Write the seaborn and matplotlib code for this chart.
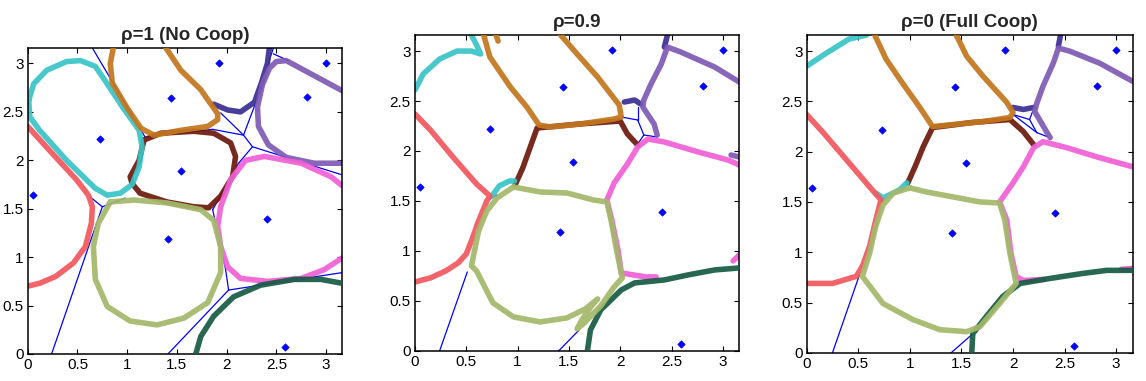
import numpy as np
import pandas as pd
import matplotlib
matplotlib.use('Agg')
import matplotlib.pyplot as plt
import seaborn as sns

# Seed points (same in every panel)
SEED_X = [0.05, 0.73, 1.44, 1.92, 3.00, 2.81, 1.54, 1.41, 2.41, 2.59]
SEED_Y = [1.64, 2.22, 2.64, 3.01, 3.01, 2.65, 1.89, 1.19, 1.39, 0.07]

TICKS = [0, 0.5, 1, 1.5, 2, 2.5, 3]
TICK_LABELS = ['0', '0.5', '1', '1.5', '2', '2.5', '3']
TITLES = ['\u03c1=1 (No Coop)', '\u03c1=0.9', '\u03c1=0 (Full Coop)']

COLORS = {
    'navy': '#3c2f94', 'brown': '#6e1a0e', 'cyan': '#3bc4c8', 'red': '#f2575f',
    'purple': '#7f5bb5', 'magenta': '#f060d6', 'orange': '#c3771e',
    'green': '#175b45', 'olive': '#a4b86a',
}
DRAW_ORDER = ['navy', 'brown', 'cyan', 'red', 'purple', 'magenta', 'orange', 'green', 'olive']

# ---- panel 1: rho = 1 ----
P1_CYAN = [(0.01, 2.62), (0.06, 2.79), (0.19, 2.93), (0.39, 3.02), (0.53, 3.03), (0.68, 2.97),
           (0.78, 2.82), (0.96, 2.54), (1.12, 2.31), (1.15, 2.14), (1.12, 1.93), (1.05, 1.75),
           (0.93, 1.66), (0.80, 1.64), (0.68, 1.71), (0.39, 2.00), (0.12, 2.31), (0.02, 2.45),
           (0.01, 2.62)]
P1_RED = [(0.0, 2.35), (0.23, 2.09), (0.49, 1.80), (0.61, 1.64), (0.65, 1.52), (0.64, 1.35),
          (0.58, 1.11), (0.46, 0.94), (0.28, 0.80), (0.12, 0.73), (0.0, 0.70)]
P1_ORANGE = [(0.86, 3.16), (0.83, 3.00), (0.85, 2.80), (1.00, 2.54), (1.14, 2.33), (1.27, 2.26),
             (1.54, 2.31), (1.81, 2.35), (1.91, 2.42), (1.91, 2.48), (1.74, 2.73), (1.54, 2.93),
             (1.39, 3.16)]
P1_BROWN = [(1.17, 2.21), (1.34, 2.28), (1.67, 2.30), (1.87, 2.28), (2.04, 2.18), (2.09, 2.04),
            (2.06, 1.83), (1.94, 1.63), (1.82, 1.51), (1.67, 1.52), (1.40, 1.57), (1.13, 1.66),
            (1.05, 1.76), (1.03, 1.83), (1.12, 2.00), (1.17, 2.21)]
P1_NAVY = [(2.43, 3.16), (2.41, 3.00), (2.35, 2.80), (2.28, 2.60), (2.14, 2.50), (2.01, 2.52),
           (1.87, 2.58)]
P1_PURPLE = [(3.16, 2.72), (2.60, 3.03), (2.50, 3.02), (2.43, 2.95), (2.36, 2.78), (2.31, 2.55),
             (2.32, 2.35), (2.42, 2.16), (2.60, 2.03), (2.88, 1.97), (3.16, 1.97)]
P1_MAGENTA = [(3.16, 1.74), (3.05, 1.83), (2.75, 1.97), (2.38, 2.04), (2.19, 2.00), (2.04, 1.80),
              (1.94, 1.52), (1.91, 1.32), (1.94, 1.11), (2.01, 0.90), (2.14, 0.78), (2.41, 0.75),
              (2.75, 0.78), (2.98, 0.87), (3.16, 0.99)]
P1_OLIVE = [(0.83, 1.57), (1.07, 1.59), (1.40, 1.56), (1.74, 1.49), (1.87, 1.38), (1.94, 1.11),
            (1.94, 0.84), (1.81, 0.53), (1.57, 0.37), (1.30, 0.30), (1.03, 0.34), (0.80, 0.49),
            (0.68, 0.77), (0.66, 1.11), (0.71, 1.35), (0.83, 1.57)]
P1_GREEN = [(1.69, 0.0), (1.74, 0.18), (1.87, 0.39), (2.07, 0.59), (2.34, 0.71), (2.68, 0.77),
            (2.95, 0.77), (3.16, 0.73)]
P1_VORONOI = [
    [(0.24, 0.0), (0.75, 1.52)], [(0.75, 1.52), (0.63, 1.62)], [(0.75, 1.52), (0.98, 1.61)],
    [(0.65, 3.16), (1.18, 2.24)], [(1.18, 2.24), (1.86, 2.32)], [(1.86, 2.32), (2.17, 2.26)],
    [(1.94, 2.49), (2.17, 2.26)], [(2.17, 2.26), (2.26, 2.14)], [(2.26, 2.14), (3.16, 1.85)],
    [(2.26, 2.14), (2.12, 1.97)], [(2.17, 2.26), (2.28, 2.56)], [(2.28, 2.56), (2.47, 3.16)],
    [(2.47, 3.10), (2.62, 3.03)], [(2.12, 1.97), (1.86, 1.49)], [(1.86, 1.49), (1.99, 0.87)],
    [(1.99, 0.87), (2.02, 0.66)], [(2.02, 0.66), (3.16, 0.84)], [(2.02, 0.66), (1.41, 0.0)],
]

# ---- panel 2: rho = 0.9 ----
P2_CYAN = [(0.0, 2.61), (0.08, 2.77), (0.24, 2.92), (0.41, 3.00), (0.55, 3.00), (0.64, 2.97),
           (0.60, 3.06), (0.55, 3.16)]
P2_CYAN_B = [(0.75, 1.55), (0.82, 1.65), (0.92, 1.70), (0.97, 1.70)]
P2_RED = [(0.0, 0.69), (0.15, 0.73), (0.30, 0.80), (0.42, 0.88), (0.50, 0.97), (0.55, 1.10),
          (0.62, 1.30), (0.70, 1.50), (0.73, 1.55), (0.60, 1.67), (0.37, 1.94), (0.15, 2.21),
          (0.0, 2.37)]
P2_ORANGE = [(0.67, 3.16), (0.73, 2.94), (0.93, 2.64), (1.09, 2.44), (1.21, 2.26), (1.32, 2.24),
             (1.61, 2.27), (1.94, 2.32), (2.01, 2.34), (1.99, 2.46), (1.78, 2.74), (1.58, 2.97),
             (1.42, 3.16)]
P2_ORANGE_B = [(0.79, 3.16), (0.81, 3.10)]
P2_BROWN = [(0.98, 1.67), (1.05, 1.83), (1.12, 2.03), (1.19, 2.23), (1.60, 2.27), (2.00, 2.30),
            (2.07, 2.17), (2.17, 2.06)]
P2_NAVY = [(2.04, 2.49), (2.14, 2.51), (2.20, 2.47)]
P2_NAVY_B = [(2.46, 3.16), (2.43, 3.04)]
P2_PURPLE = [(3.16, 2.69), (2.92, 2.84), (2.59, 2.99), (2.46, 3.04), (2.40, 2.87), (2.30, 2.67),
             (2.23, 2.51), (2.22, 2.44), (2.33, 2.27), (2.36, 2.16)]
P2_PURPLE_B = [(3.08, 1.96), (3.16, 1.94)]
P2_MAGENTA = [(3.16, 1.86), (3.05, 1.91), (2.76, 1.99), (2.43, 2.09), (2.27, 2.12), (2.17, 2.04),
              (2.07, 1.87), (1.94, 1.68), (1.87, 1.51), (1.92, 1.30), (1.98, 1.00), (2.01, 0.78),
              (2.25, 0.74), (2.35, 0.74)]
P2_MAGENTA_B = [(3.10, 0.90), (3.16, 0.96)]
P2_OLIVE = [(0.96, 1.64), (1.22, 1.59), (1.48, 1.58), (1.74, 1.51), (1.87, 1.49), (1.91, 1.31),
            (1.97, 0.98), (2.02, 0.73), (1.94, 0.64), (1.81, 0.45), (1.65, 0.28), (1.58, 0.22),
            (1.62, 0.30), (1.72, 0.45), (1.78, 0.52), (1.66, 0.42), (1.48, 0.33), (1.22, 0.29),
            (0.96, 0.34), (0.76, 0.48), (0.65, 0.70), (0.60, 0.80), (0.55, 0.85), (0.58, 1.00),
            (0.62, 1.20), (0.70, 1.40), (0.80, 1.53), (0.96, 1.64)]
P2_GREEN = [(1.68, 0.0), (1.71, 0.21), (1.81, 0.41), (2.01, 0.61), (2.14, 0.68), (2.43, 0.71),
            (2.66, 0.76), (2.92, 0.81), (3.16, 0.83)]
P2_VORONOI = [
    [(0.24, 0.0), (0.51, 0.79)], [(1.40, 0.0), (1.60, 0.21)], [(0.73, 1.52), (0.80, 1.56)],
    [(2.01, 2.34), (2.17, 2.31)], [(2.17, 2.31), (2.23, 2.16)], [(2.17, 2.31), (2.17, 2.44)],
    [(2.23, 2.16), (2.36, 2.14)], [(2.23, 2.16), (2.17, 2.07)],
]

# ---- panel 3: rho = 0 ----
P3_CYAN = [(0.0, 2.85), (0.19, 2.98), (0.41, 3.12), (0.58, 3.16)]
P3_CYAN_B = [(0.67, 1.59), (0.74, 1.54), (0.90, 1.62), (0.97, 1.69)]
P3_RED = [(0.0, 2.37), (0.16, 2.19), (0.41, 1.89), (0.61, 1.65), (0.72, 1.52), (0.67, 1.32),
          (0.61, 1.06), (0.54, 0.86), (0.48, 0.76), (0.25, 0.69), (0.0, 0.69)]
P3_ORANGE = [(0.66, 3.16), (0.77, 2.92), (0.93, 2.68), (1.09, 2.45), (1.22, 2.25), (1.42, 2.27),
             (1.71, 2.30), (1.97, 2.34), (2.00, 2.39), (1.94, 2.49), (1.71, 2.75), (1.55, 2.95),
             (1.45, 3.16)]
P3_BROWN = [(0.98, 1.69), (1.05, 1.85), (1.13, 2.05), (1.22, 2.24), (1.60, 2.29), (1.97, 2.32),
            (2.10, 2.20), (2.20, 2.07)]
P3_NAVY = [(2.00, 2.44), (2.10, 2.42), (2.20, 2.44)]
P3_NAVY_B = [(2.46, 3.16), (2.44, 3.05)]
P3_PURPLE = [(3.16, 2.70), (2.84, 2.88), (2.55, 3.00), (2.44, 3.03), (2.39, 2.88), (2.29, 2.65),
             (2.23, 2.48), (2.21, 2.40), (2.33, 2.19), (2.36, 2.14)]
P3_MAGENTA = [(3.16, 1.85), (2.84, 1.94), (2.52, 2.04), (2.29, 2.10), (2.20, 2.04), (2.10, 1.85),
              (2.00, 1.69), (1.87, 1.50), (1.94, 1.32), (1.98, 0.99), (2.03, 0.76), (2.10, 0.72),
              (2.30, 0.73)]
P3_MAGENTA_B = [(3.05, 0.83), (3.16, 0.84)]
P3_OLIVE = [(1.00, 1.64), (1.16, 1.60), (1.42, 1.55), (1.68, 1.50), (1.87, 1.49), (1.92, 1.32),
            (1.97, 0.99), (2.03, 0.69), (1.87, 0.49), (1.68, 0.26), (1.55, 0.21), (1.29, 0.23),
            (1.03, 0.33), (0.74, 0.49), (0.54, 0.76), (0.61, 0.99), (0.67, 1.26), (0.74, 1.47),
            (0.84, 1.59), (1.00, 1.64)]
P3_GREEN = [(1.60, 0.0), (1.61, 0.19), (1.74, 0.36), (1.90, 0.56), (2.07, 0.69), (2.36, 0.74),
            (2.68, 0.79), (2.91, 0.82), (3.16, 0.82)]
P3_VORONOI = [
    [(0.25, 0.0), (0.51, 0.77)], [(1.40, 0.0), (1.60, 0.18)], [(0.72, 1.50), (0.78, 1.54)],
    [(2.00, 2.37), (2.16, 2.32)], [(2.16, 2.32), (2.23, 2.19)], [(2.16, 2.32), (2.19, 2.40)],
    [(2.00, 2.37), (2.23, 2.19)], [(2.23, 2.19), (2.33, 2.15)],
]

PANELS = [
    {'curves': [('navy', P1_NAVY), ('brown', P1_BROWN), ('cyan', P1_CYAN), ('red', P1_RED),
                ('purple', P1_PURPLE), ('magenta', P1_MAGENTA), ('orange', P1_ORANGE),
                ('green', P1_GREEN), ('olive', P1_OLIVE)],
     'voronoi': P1_VORONOI},
    {'curves': [('navy', P2_NAVY), ('navy', P2_NAVY_B), ('brown', P2_BROWN), ('cyan', P2_CYAN),
                ('cyan', P2_CYAN_B), ('red', P2_RED), ('magenta', P2_MAGENTA),
                ('magenta', P2_MAGENTA_B), ('purple', P2_PURPLE), ('purple', P2_PURPLE_B),
                ('orange', P2_ORANGE), ('orange', P2_ORANGE_B), ('green', P2_GREEN),
                ('olive', P2_OLIVE)],
     'voronoi': P2_VORONOI},
    {'curves': [('navy', P3_NAVY), ('navy', P3_NAVY_B), ('brown', P3_BROWN), ('cyan', P3_CYAN),
                ('cyan', P3_CYAN_B), ('red', P3_RED), ('purple', P3_PURPLE),
                ('magenta', P3_MAGENTA), ('magenta', P3_MAGENTA_B), ('orange', P3_ORANGE),
                ('green', P3_GREEN), ('olive', P3_OLIVE)],
     'voronoi': P3_VORONOI},
]

# axes rectangles in figure fractions (left, bottom, width, height)
AX_RECTS = [(0.0242, 0.071, 0.2742, 0.803), (0.3621, 0.079, 0.2830, 0.829),
            (0.7039, 0.074, 0.2845, 0.834)]

sns.set_style('ticks')
plt.rcParams['font.family'] = ['Liberation Sans', 'DejaVu Sans']

fig = plt.figure(figsize=(11.46, 3.81), dpi=100)

for k, panel in enumerate(PANELS):
    ax = fig.add_axes(AX_RECTS[k])

    # voronoi edges
    rows = []
    for i, seg in enumerate(panel['voronoi']):
        for j, (x, y) in enumerate(seg):
            rows.append({'x': x, 'y': y, 'seg': i})
    vdf = pd.DataFrame(rows)
    sns.lineplot(data=vdf, x='x', y='y', units='seg', estimator=None, sort=False,
                 color='#0000ff', linewidth=0.9, ax=ax, zorder=1, legend=False)

    # robot boundary traces, one at a time to control layering
    for name, pts in panel['curves']:
        cdf = pd.DataFrame(pts, columns=['x', 'y'])
        sns.lineplot(data=cdf, x='x', y='y', sort=False, estimator=None,
                     color=COLORS[name], linewidth=4.0, alpha=0.93, ax=ax,
                     zorder=2 + DRAW_ORDER.index(name) * 0.1,
                     solid_capstyle='round', solid_joinstyle='round')

    sns.scatterplot(x=SEED_X, y=SEED_Y, marker='D', s=14, color='#0000ff',
                    edgecolor='#0000ff', linewidth=0.5, ax=ax, zorder=5)

    ax.set_xlim(0, 3.16)
    ax.set_ylim(0, 3.16)
    ax.set_xticks(TICKS)
    ax.set_xticklabels(TICK_LABELS)
    ax.set_yticks(TICKS)
    ax.set_yticklabels(TICK_LABELS)
    ax.tick_params(direction='in', top=True, right=True, length=3.5, width=0.8,
                   labelsize=11, colors='black', pad=3)
    for sp in ax.spines.values():
        sp.set_visible(True)
        sp.set_color('black')
        sp.set_linewidth(1.1)
    ax.set_xlabel('')
    ax.set_ylabel('')
    ax.set_title(TITLES[k], fontsize=13.5, fontweight='bold', pad=5.5)

fig.savefig('out.png', dpi=100)
